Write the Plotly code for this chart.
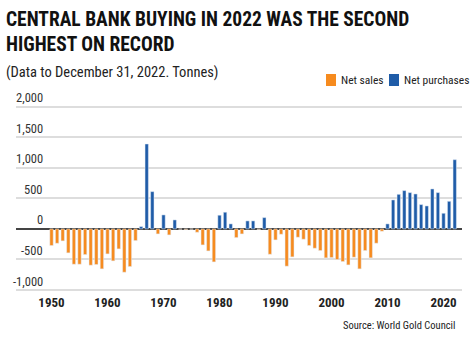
import plotly.graph_objects as go

years = list(range(1950, 2023))
tonnes = [
    -272, -235, -196, -392, -578, -578, -420, -594, -583, -654,   # 1950-1959
    -409, -523, -327, -709, -616, -191, 38, 1390, 610, -82,       # 1960-1969
    229, -98, 147, -5, -12, -5, -55, -262, -360, -540,            # 1970-1979
    224, 273, 82, -142, -82, 131, 131, -10, 185, -415,            # 1980-1989
    -180, -87, -610, -458, -136, -169, -272, -316, -354, -474,    # 1990-1999
    -469, -501, -534, -589, -463, -654, -354, -474, -234, -38,    # 2000-2009
    82, 474, 566, 627, 594, 572, 398, 376, 654, 594,              # 2010-2019
    256, 452, 1133,                                               # 2020-2022
]
series_names = ["Net sales", "Net purchases"]
series_colors = ["#F68B1F", "#1F5CA8"]
y_tick_vals = [-1000, -500, 0, 500, 1000, 1500, 2000]
y_tick_text = ["-1,000", "-500", "0", "500", "1,000", "1,500", "2,000"]
x_tick_vals = [1950, 1960, 1970, 1980, 1990, 2000, 2010, 2020]
x_tick_text = ["1950", "1960", "1970", "1980", "1990", "2000", "2010", "2020"]

title_lines = ["CENTRAL BANK BUYING IN 2022 WAS THE SECOND", "HIGHEST ON RECORD"]
subtitle = "(Data to December 31, 2022. Tonnes)"
source = "Source: World Gold Council"

COND = "'Roboto Condensed', 'Liberation Sans Narrow', 'DejaVu Sans Condensed', 'Arial Narrow', Roboto, sans-serif"

W, H = 474, 338
L, R, T, B = 16, 12, 100, 45
PW, PH = W - L - R, H - T - B


def xp(px):
    return (px - L) / PW


def yp(py):
    return (H - B - py) / PH


sales = [v if v < 0 else None for v in tonnes]
purchases = [v if v >= 0 else None for v in tonnes]

fig = go.Figure()
fig.add_bar(x=years, y=sales, name=series_names[0], marker_color=series_colors[0],
            width=0.6, showlegend=False)
fig.add_bar(x=years, y=purchases, name=series_names[1], marker_color=series_colors[1],
            width=0.6, showlegend=False)

annotations = []
# y tick labels above gridlines
for v, t in zip(y_tick_vals, y_tick_text):
    annotations.append(dict(x=xp(45), xref="paper", y=v, yref="y", text=t, showarrow=False,
                            xanchor="right", yanchor="middle", yshift=9,
                            font=dict(family=COND, size=12.5, color="#333333")))
# title
annotations.append(dict(x=xp(4), y=yp(19), xref="paper", yref="paper", text="<b>" + title_lines[0] + "</b>",
                        showarrow=False, xanchor="left", yanchor="middle",
                        font=dict(family=COND, size=19.5, color="#111111")))
annotations.append(dict(x=xp(4), y=yp(44), xref="paper", yref="paper", text="<b>" + title_lines[1] + "</b>",
                        showarrow=False, xanchor="left", yanchor="middle",
                        font=dict(family=COND, size=19.5, color="#111111")))
annotations.append(dict(x=xp(4), y=yp(72.5), xref="paper", yref="paper", text=subtitle,
                        showarrow=False, xanchor="left", yanchor="middle",
                        font=dict(family=COND, size=14.5, color="#222222")))
annotations.append(dict(x=xp(457), y=yp(325), xref="paper", yref="paper", text=source,
                        showarrow=False, xanchor="right", yanchor="middle",
                        font=dict(family=COND, size=10.5, color="#222222")))

# legend
shapes = []
leg_text_w = [40, 62]
right_edge = 465
# lay out legend from right edge
entries = []
x_cursor = right_edge
for name, col, tw in reversed(list(zip(series_names, series_colors, leg_text_w))):
    text_x = x_cursor - tw
    sw_x = text_x - 14
    entries.append((name, col, sw_x, text_x))
    x_cursor = sw_x - 9
for name, col, sx, tx in entries:
    shapes.append(dict(type="rect", xref="paper", yref="paper",
                       x0=xp(sx), x1=xp(sx + 10), y0=yp(86), y1=yp(74),
                       fillcolor=col, line=dict(width=0)))
    annotations.append(dict(x=xp(tx - 1), y=yp(80), xref="paper", yref="paper", text=name,
                            showarrow=False, xanchor="left", yanchor="middle",
                            font=dict(family=COND, size=11.5, color="#222222")))

fig.update_layout(
    width=W, height=H,
    margin=dict(l=L, r=R, t=T, b=B),
    paper_bgcolor="white", plot_bgcolor="white",
    barmode="overlay",
    showlegend=False,
    annotations=annotations,
    shapes=shapes,
    xaxis=dict(range=[1943.66, 2023.3], tickvals=x_tick_vals, ticktext=x_tick_text,
               showgrid=False, zeroline=False, ticks="", showline=False,
               tickfont=dict(family=COND, size=13, color="#222222", weight="bold")),
    yaxis=dict(range=[-1049, 2110], tickvals=y_tick_vals, showticklabels=False,
               showgrid=True, gridcolor="#DDDDDD", gridwidth=1.5,
               zeroline=True, zerolinecolor="#444444", zerolinewidth=1.5,
               ticks="", showline=False),
)

fig.write_html("out.html")
